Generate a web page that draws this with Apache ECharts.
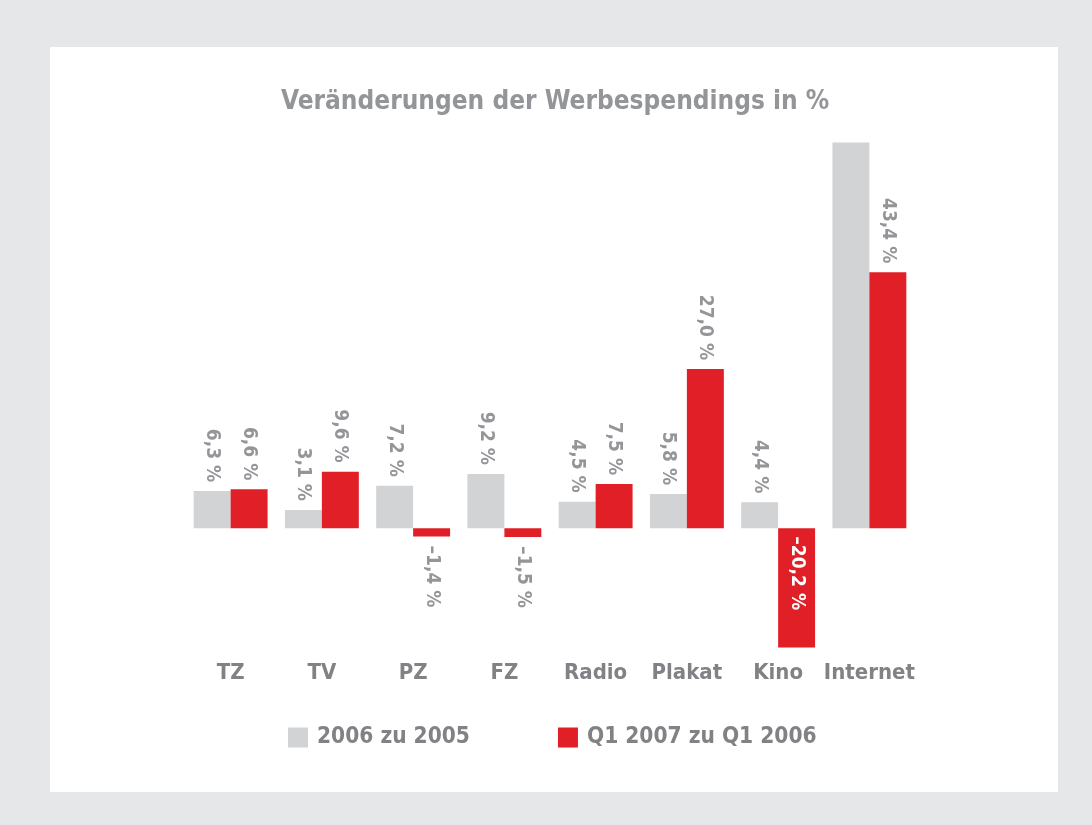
<!DOCTYPE html>
<html>
<head>
<meta charset="utf-8">
<script src="https://cdn.jsdelivr.net/npm/echarts@6/dist/echarts.min.js"></script>
<style>
  html, body { margin: 0; padding: 0; background: #e6e7e8; }
  #chart { width: 1092px; height: 825px; }
</style>
</head>
<body>
<div id="chart"></div>
<script>
// Kategorien und Werte (in %)
const categories = ['TZ', 'TV', 'PZ', 'FZ', 'Radio', 'Plakat', 'Kino', 'Internet'];
const grayValues = [6.3, 3.1, 7.2, 9.2, 4.5, 5.8, 4.4, 65.4];
const redValues = [6.6, 9.6, -1.4, -1.5, 7.5, 27.0, -20.2, 43.4];
// Internet 2006 zu 2005 hat im Original keine Beschriftung
const grayLabelShown = [true, true, true, true, true, true, true, false];
const redLabelShown = [true, true, true, true, true, true, true, true];
// Kino steht im Balken
const grayLabelInside = [false, false, false, false, false, false, false, false];
const redLabelInside = [false, false, false, false, false, false, true, false];
const seriesNames = ['2006 zu 2005', 'Q1 2007 zu Q1 2006'];

const FONT = "'Liberation Sans Narrow', 'DejaVu Sans Condensed', sans-serif";
const TEXT = '#808285';

const fmt = v => (v < 0 ? '\u2013' : '') + Math.abs(v).toFixed(1).replace('.', ',') + ' %';

const buildData = (values, shown, inside) => values.map((v, i) => {
  let label;
  if (inside[i]) {
    label = {show: shown[i], position: v < 0 ? 'insideTop' : 'insideBottom', align: v < 0 ? 'left' : 'right', color: '#ffffff', distance: 8};
  } else {
    label = {show: shown[i], position: v < 0 ? 'bottom' : 'top', align: v < 0 ? 'left' : 'right'};
  }
  return {value: v, label: label};
});

const labelBase = {
  show: true,
  rotate: -90,
  verticalAlign: 'middle',
  distance: 9,
  formatter: p => fmt(p.value),
  color: '#939598',
  fontFamily: FONT,
  fontWeight: 'bold',
  fontSize: 19
};

const chart = echarts.init(document.getElementById('chart'));

chart.setOption({
  backgroundColor: '#e6e7e8',
  graphic: [{
    type: 'rect',
    z: -10,
    silent: true,
    shape: {x: 50, y: 47, width: 1008, height: 745},
    style: {fill: '#ffffff'}
  }],
  title: {
    text: 'Veränderungen der Werbespendings in %',
    left: 276,
    top: 84,
    textStyle: {
      color: '#939598',
      fontFamily: FONT,
      fontWeight: 'bold',
      fontSize: 26
    }
  },
  legend: {
    bottom: 71,
    left: 283,
    itemWidth: 20,
    itemHeight: 20,
    itemGap: 88,
    icon: 'rect',
    data: seriesNames,
    textStyle: {
      color: TEXT,
      fontFamily: FONT,
      fontWeight: 'bold',
      fontSize: 22.5,
      padding: [0, 0, 0, 4]
    }
  },
  grid: {
    left: 185,
    right: 177,
    top: 139,
    bottom: 167
  },
  xAxis: {
    type: 'category',
    data: categories,
    axisLine: {show: false},
    axisTick: {show: false},
    axisLabel: {
      interval: 0,
      margin: 4,
      color: TEXT,
      fontFamily: FONT,
      fontWeight: 'bold',
      fontSize: 22
    }
  },
  yAxis: {
    type: 'value',
    min: -22,
    max: 66,
    show: false,
    splitLine: {show: false}
  },
  series: [
    {
      name: seriesNames[0],
      type: 'bar',
      barGap: '0%',
      barCategoryGap: '19%',
      itemStyle: {color: '#d1d3d4'},
      label: Object.assign({}, labelBase),
      data: buildData(grayValues, grayLabelShown, grayLabelInside)
    },
    {
      name: seriesNames[1],
      type: 'bar',
      itemStyle: {color: '#e01f26'},
      label: Object.assign({}, labelBase),
      data: buildData(redValues, redLabelShown, redLabelInside)
    }
  ]
});
</script>
</body>
</html>
